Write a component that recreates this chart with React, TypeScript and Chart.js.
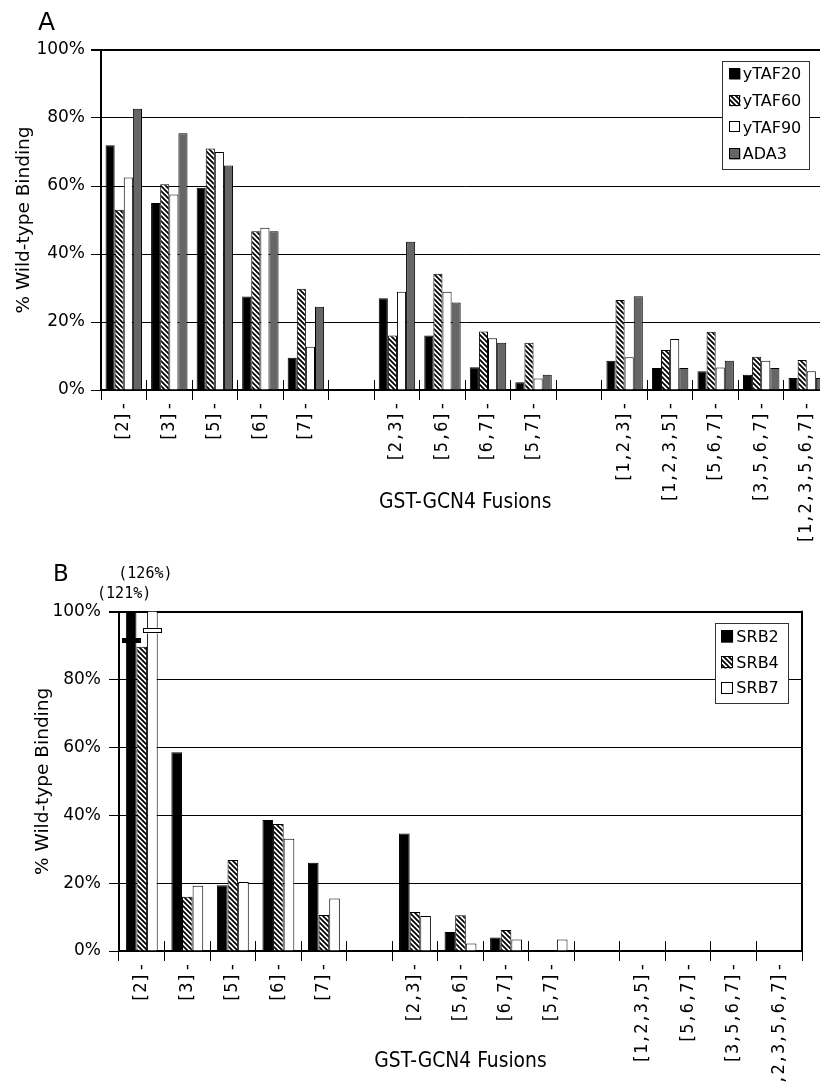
import { useEffect, useRef } from 'react';
import { Chart, registerables } from 'chart.js';

Chart.register(...registerables);

// ---------- data ----------
const CATEGORIES_A = ['[2]-', '[3]-', '[5]-', '[6]-', '[7]-', '', '[2,3]-', '[5,6]-', '[6,7]-', '[5,7]-', '', '[1,2,3]-', '[1,2,3,5]-', '[5,6,7]-', '[3,5,6,7]-', '[1,2,3,5,6,7]-'];
const YTAF20 = [72, 55, 59.5, 27.5, 9.5, null, 27, 16, 6.7, 2.3, null, 8.6, 6.5, 5.5, 4.5, 3.5];
const YTAF60 = [53, 60.5, 71, 46.7, 29.8, null, 16, 34.2, 17.2, 13.9, null, 26.5, 11.8, 17.1, 9.8, 8.8];
const YTAF90 = [62.5, 57.5, 70, 47.7, 12.7, null, 28.9, 28.9, 15.2, 3.4, null, 9.6, 15, 6.6, 8.6, 5.5];
const ADA3 = [82.7, 75.5, 66, 46.7, 24.5, null, 43.6, 25.7, 13.9, 4.5, null, 27.6, 6.5, 8.6, 6.5, 3.5];

const CATEGORIES_B = ['[2]-', '[3]-', '[5]-', '[6]-', '[7]-', '', '[2,3]-', '[5,6]-', '[6,7]-', '[5,7]-', '', '[1,2,3,5]-', '[5,6,7]-', '[3,5,6,7]-', '[1,2,3,5,6,7]-'];
const SRB2 = [121, 58.6, 19.4, 38.6, 26, null, 34.6, 5.6, 4.0, 0, null, 0, 0, 0, 0];
const SRB4 = [89.7, 16, 26.8, 37.4, 10.6, null, 11.5, 10.5, 6.2, 0, null, 0, 0, 0, 0];
const SRB7 = [126, 19.2, 20.3, 33.1, 15.5, null, 10.3, 2.2, 3.4, 3.4, null, 0, 0, 0, 0];
// where the axis-break mark is drawn on an off-scale bar (per series, % axis value)
const SRB_BREAKS = [91.5, null, 94.3];

const Y_MIN = 0;
const Y_MAX = 100;
const Y_STEP = 20;

// ---------- styles ----------
const SANS = '"DejaVu Sans", Verdana, sans-serif';
const MONO = '"DejaVu Sans Mono", monospace';
const COND = '"DejaVu Sans Condensed", "Liberation Sans Narrow", "DejaVu Sans", sans-serif';
const GRAY = '#666666';

function makeHatch(): CanvasPattern | string {
  const s = 5;
  const c = document.createElement('canvas');
  c.width = s;
  c.height = s;
  const g = c.getContext('2d');
  if (!g) return '#888';
  g.fillStyle = '#fff';
  g.fillRect(0, 0, s, s);
  g.strokeStyle = '#000';
  g.lineWidth = 1.8;
  g.beginPath();
  g.moveTo(-1, -1); g.lineTo(s + 1, s + 1);
  g.moveTo(-1, s - 1); g.lineTo(1, s + 1);
  g.moveTo(s - 1, -1); g.lineTo(s + 1, 1);
  g.stroke();
  return g.createPattern(c, 'repeat') || '#888';
}

const align = (p: number) => Math.round(p - 0.5) + 0.5;

// tick marks at category boundaries that cross the axis (inner half)
const crossTicks = {
  id: 'crossTicks',
  afterDraw(chart: any) {
    const x = chart.scales.x;
    const { bottom } = chart.chartArea;
    const n = chart.data.labels.length;
    const ctx = chart.ctx;
    ctx.save();
    ctx.strokeStyle = '#000';
    ctx.lineWidth = 1;
    ctx.beginPath();
    for (let i = 0; i <= n; i++) {
      const px = align(x.getPixelForValue(i - 0.5));
      ctx.moveTo(px, bottom - 10);
      ctx.lineTo(px, bottom);
    }
    ctx.stroke();
    ctx.restore();
  },
};

const rightBorder = {
  id: 'rightBorder',
  afterDraw(chart: any, _a: any, opts: any) {
    if (!opts || !opts.show) return;
    const { top, bottom, right } = chart.chartArea;
    const ctx = chart.ctx;
    ctx.save();
    ctx.strokeStyle = '#000';
    ctx.lineWidth = 2;
    ctx.beginPath();
    ctx.moveTo(right, top - 1);
    ctx.lineTo(right, bottom + 1);
    ctx.stroke();
    ctx.restore();
  },
};

const panelLetter = {
  id: 'panelLetter',
  afterDraw(chart: any, _a: any, opts: any) {
    if (!opts || !opts.text) return;
    const ctx = chart.ctx;
    ctx.save();
    ctx.fillStyle = '#000';
    ctx.font = `${opts.size}px ${SANS}`;
    ctx.textAlign = 'left';
    ctx.textBaseline = 'alphabetic';
    ctx.fillText(opts.text, opts.x, opts.y);
    ctx.restore();
  },
};

const boxLegend = {
  id: 'boxLegend',
  afterDraw(chart: any, _a: any, o: any) {
    if (!o || !o.show) return;
    const ctx = chart.ctx;
    const area = chart.chartArea;
    ctx.save();
    ctx.font = `${o.fontSize}px ${SANS}`;
    const ds = chart.data.datasets;
    let maxW = 0;
    ds.forEach((d: any) => { maxW = Math.max(maxW, ctx.measureText(d.label).width); });
    const w = o.padL + o.sq + o.gap + maxW + o.padR;
    const h = o.padT + o.rowH * (ds.length - 1) + o.padB;
    const x0 = area.right - o.right - w;
    const y0 = area.top + o.top;
    ctx.fillStyle = '#fff';
    ctx.fillRect(x0, y0, w, h);
    ctx.strokeStyle = '#333';
    ctx.lineWidth = 1;
    ctx.strokeRect(align(x0), align(y0), Math.round(w), Math.round(h));
    ds.forEach((d: any, i: number) => {
      const cy = y0 + o.padT + i * o.rowH;
      const sx = x0 + o.padL;
      ctx.fillStyle = d.backgroundColor;
      ctx.fillRect(sx, cy - o.sq / 2, o.sq, o.sq);
      ctx.strokeStyle = '#000';
      ctx.strokeRect(align(sx), align(cy - o.sq / 2), o.sq - 1, o.sq - 1);
      ctx.fillStyle = '#000';
      ctx.textAlign = 'left';
      ctx.textBaseline = 'middle';
      ctx.fillText(d.label, sx + o.sq + o.gap, cy + 1);
    });
    ctx.restore();
  },
};

// axis-break marks and value labels for bars beyond the axis maximum
const overflowMarks = {
  id: 'overflowMarks',
  afterDatasetsDraw(chart: any, _a: any, o: any) {
    if (!o || !o.breaks) return;
    const ctx = chart.ctx;
    const y = chart.scales.y;
    const max = y.max;
    const area = chart.chartArea;
    let k = 0;
    ctx.save();
    chart.data.datasets.forEach((d: any, di: number) => {
      const meta = chart.getDatasetMeta(di);
      d.data.forEach((v: any, i: number) => {
        if (v == null || v <= max) return;
        const bar: any = meta.data[i];
        const bw = bar.width;
        const br = o.breaks[di];
        if (br != null) {
          const py = y.getPixelForValue(br);
          const x0 = bar.x - bw / 2 - 3.5;
          const ww = bw + 7;
          ctx.fillStyle = d.backgroundColor;
          ctx.fillRect(x0, py - 2.5, ww, 5);
          ctx.strokeStyle = '#000';
          ctx.lineWidth = 1;
          ctx.strokeRect(align(x0), align(py - 2.5), Math.round(ww), 4);
        }
        ctx.fillStyle = '#000';
        ctx.font = `15px ${MONO}`;
        ctx.textAlign = 'center';
        ctx.textBaseline = 'middle';
        ctx.fillText(`(${v}%)`, bar.x - 7, area.top - 18 - k * 19.5);
        k++;
      });
    });
    ctx.restore();
  },
};

function makeConfig(p: any): any {
  return {
    type: 'bar',
    data: {
      labels: p.labels,
      datasets: p.series.map((s: any) => ({
        label: s.label,
        data: s.data,
        backgroundColor: s.fill,
        borderColor: '#000',
        borderWidth: 1,
        categoryPercentage: p.catPct,
        barPercentage: 1,
        clip: 0,
      })),
    },
    options: {
      responsive: false,
      animation: false,
      devicePixelRatio: 1,
      events: [],
      layout: { padding: p.padding },
      plugins: {
        legend: { display: false },
        tooltip: { enabled: false },
        boxLegend: p.legend,
        rightBorder: { show: p.rightBorder },
        panelLetter: p.letter,
        overflowMarks: { breaks: p.breaks },
      },
      scales: {
        x: {
          offset: true,
          ticks: {
            autoSkip: false,
            minRotation: 90,
            maxRotation: 90,
            padding: 1,
            color: '#000',
            font: { family: MONO, size: 17 },
          },
          grid: {
            display: true,
            offset: true,
            drawOnChartArea: false,
            drawTicks: true,
            tickLength: 10,
            color: '#000',
            lineWidth: 1,
          },
          border: { display: true, color: '#000', width: 2 },
          title: {
            display: true,
            text: 'GST-GCN4 Fusions',
            color: '#000',
            font: { family: COND, size: 20.8 },
            padding: { top: 0, bottom: p.xTitlePad },
          },
          afterFit: (s: any) => { s.height = p.xHeight; },
        },
        y: {
          min: Y_MIN,
          max: Y_MAX,
          ticks: {
            stepSize: Y_STEP,
            color: '#000',
            padding: p.yTickPad,
            font: { family: SANS, size: 17 },
            callback: (v: any) => `${v}%`,
          },
          grid: {
            color: '#000',
            lineWidth: (c: any) => (c.tick && c.tick.value === Y_MAX ? 2 : 1),
            tickLength: 10,
          },
          border: { display: true, color: '#000', width: 2 },
          title: {
            display: true,
            text: '% Wild-type Binding',
            color: '#000',
            font: { family: SANS, size: 18.5 },
            padding: { top: p.yTitlePad, bottom: 0 },
          },
          afterFit: (s: any) => { s.width = p.yWidth; },
        },
      },
    },
    plugins: [crossTicks, rightBorder, panelLetter, boxLegend, overflowMarks],
  };
}

export default function App() {
  const refA = useRef<HTMLCanvasElement>(null);
  const refB = useRef<HTMLCanvasElement>(null);

  useEffect(() => {
    if (!refA.current || !refB.current) return;
    const hatch = makeHatch();
    const chartA = new Chart(refA.current, makeConfig({
      labels: CATEGORIES_A,
      series: [
        { label: 'yTAF20', data: YTAF20, fill: '#000' },
        { label: 'yTAF60', data: YTAF60, fill: hatch },
        { label: 'yTAF90', data: YTAF90, fill: '#fff' },
        { label: 'ADA3', data: ADA3, fill: GRAY },
      ],
      catPct: 0.8,
      padding: { left: 0, top: 50, right: 10.5, bottom: 0 },
      xHeight: 158,
      xTitlePad: 32.5,
      yWidth: 101,
      yTickPad: 6,
      yTitlePad: 13,
      rightBorder: false,
      breaks: null,
      letter: { text: 'A', size: 25, x: 38, y: 30 },
      legend: { show: true, fontSize: 16, right: 20.2, top: 11, sq: 11, padL: 6.6, gap: 2.4, padR: 8, padT: 13, rowH: 26.7, padB: 15.3 },
    }));
    const chartB = new Chart(refB.current, makeConfig({
      labels: CATEGORIES_B,
      series: [
        { label: 'SRB2', data: SRB2, fill: '#000' },
        { label: 'SRB4', data: SRB4, fill: hatch },
        { label: 'SRB7', data: SRB7, fill: '#fff' },
      ],
      catPct: 0.7,
      padding: { left: 0, top: 63.7, right: 18, bottom: 0 },
      xHeight: 135,
      xTitlePad: 11.5,
      yWidth: 119,
      yTickPad: 8,
      yTitlePad: 32,
      rightBorder: true,
      breaks: SRB_BREAKS,
      letter: { text: 'B', size: 23, x: 53, y: 32.7 },
      legend: { show: true, fontSize: 16, right: 13.7, top: 11.6, sq: 12, padL: 5.7, gap: 3.3, padR: 9.5, padT: 13.4, rowH: 25.8, padB: 15 },
    }));
    return () => {
      chartA.destroy();
      chartB.destroy();
    };
  }, []);

  return (
    <div style={{ position: 'absolute', left: 0, top: 0, width: 820, height: 1086, overflow: 'hidden', background: '#fff' }}>
      <canvas ref={refA} width={840} height={548} style={{ position: 'absolute', left: 0, top: 0 }} />
      <canvas ref={refB} width={820} height={538} style={{ position: 'absolute', left: 0, top: 548 }} />
    </div>
  );
}
